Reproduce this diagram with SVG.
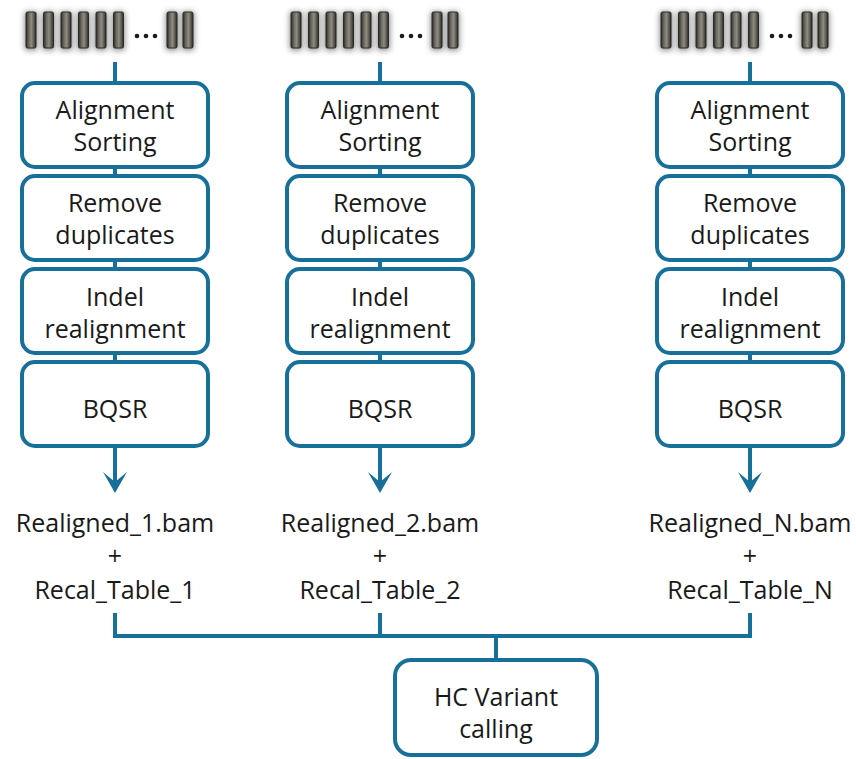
<svg xmlns="http://www.w3.org/2000/svg" xmlns:xlink="http://www.w3.org/1999/xlink" width="856" height="759" viewBox="0 0 856 759">
<style>
.box{fill:#ffffff;stroke:#17709a;stroke-width:4}
.ln{fill:none;stroke:#17709a;stroke-width:4}
.ah{fill:#17709a}
text{font-family:"Open Sans","Liberation Sans",sans-serif;font-size:25px;fill:#1a1a1a;text-anchor:middle}
.dot{fill:#1a1a1a}
</style>
<defs>
<linearGradient id="blk" x1="0" y1="0" x2="1" y2="0">
<stop offset="0" stop-color="#2a2a26"/>
<stop offset="0.3" stop-color="#6e6c62"/>
<stop offset="0.55" stop-color="#8e8b7e"/>
<stop offset="0.8" stop-color="#5a5850"/>
<stop offset="1" stop-color="#2a2a26"/>
</linearGradient>
<filter id="blur" x="-1" y="-1" width="3" height="3"><feGaussianBlur stdDeviation="3"/></filter>
<g id="block">
<rect x="-1" y="12" width="12" height="38" fill="#000" opacity="0.5" filter="url(#blur)"/>
<rect x="0" y="12" width="10" height="36" rx="1.5" fill="url(#blk)" stroke="#2b2b28" stroke-width="1"/>
</g>
<g id="reads">
<use xlink:href="#block" x="-89"/>
<use xlink:href="#block" x="-71.5"/>
<use xlink:href="#block" x="-54"/>
<use xlink:href="#block" x="-36.5"/>
<use xlink:href="#block" x="-19"/>
<use xlink:href="#block" x="-1.5"/>
<circle class="dot" cx="22" cy="36" r="2.3"/>
<circle class="dot" cx="31" cy="36" r="2.3"/>
<circle class="dot" cx="40" cy="36" r="2.3"/>
<use xlink:href="#block" x="52"/>
<use xlink:href="#block" x="68"/>
</g>
<path id="arrowhead" d="M0,0 L-12,-21 L0,-11 L12,-21 Z"/>
</defs>

<g id="reads1"><use xlink:href="#reads" x="115"/></g>
<g id="reads2"><use xlink:href="#reads" x="380"/></g>
<g id="readsN"><use xlink:href="#reads" x="750"/></g>

<g id="connectors">
<path class="ln" d="M115,62 V83 M115,167 V176 M115,260 V269 M115,353 V362 M115,446 V484"/>
<path class="ln" d="M380,62 V83 M380,167 V176 M380,260 V269 M380,353 V362 M380,446 V484"/>
<path class="ln" d="M750,62 V83 M750,167 V176 M750,260 V269 M750,353 V362 M750,446 V484"/>
<use class="ah" xlink:href="#arrowhead" x="115" y="493"/>
<use class="ah" xlink:href="#arrowhead" x="380" y="493"/>
<use class="ah" xlink:href="#arrowhead" x="750" y="493"/>
<path class="ln" d="M115,613 V636 H750 V613 M380,613 V636 M496,636 V660"/>
</g>

<g id="align1"><rect class="box" x="22" y="83" width="186" height="84" rx="13"/><text x="115" y="119">Alignment</text><text x="115" y="151">Sorting</text></g>
<g id="dup1"><rect class="box" x="22" y="176" width="186" height="84" rx="13"/><text x="115" y="212">Remove</text><text x="115" y="244">duplicates</text></g>
<g id="indel1"><rect class="box" x="22" y="269" width="186" height="84" rx="13"/><text x="115" y="306">Indel</text><text x="115" y="338">realignment</text></g>
<g id="bqsr1"><rect class="box" x="22" y="362" width="186" height="84" rx="13"/><text x="115" y="418">BQSR</text></g>

<g id="align2"><rect class="box" x="287" y="83" width="186" height="84" rx="13"/><text x="380" y="119">Alignment</text><text x="380" y="151">Sorting</text></g>
<g id="dup2"><rect class="box" x="287" y="176" width="186" height="84" rx="13"/><text x="380" y="212">Remove</text><text x="380" y="244">duplicates</text></g>
<g id="indel2"><rect class="box" x="287" y="269" width="186" height="84" rx="13"/><text x="380" y="306">Indel</text><text x="380" y="338">realignment</text></g>
<g id="bqsr2"><rect class="box" x="287" y="362" width="186" height="84" rx="13"/><text x="380" y="418">BQSR</text></g>

<g id="alignN"><rect class="box" x="657" y="83" width="186" height="84" rx="13"/><text x="750" y="119">Alignment</text><text x="750" y="151">Sorting</text></g>
<g id="dupN"><rect class="box" x="657" y="176" width="186" height="84" rx="13"/><text x="750" y="212">Remove</text><text x="750" y="244">duplicates</text></g>
<g id="indelN"><rect class="box" x="657" y="269" width="186" height="84" rx="13"/><text x="750" y="306">Indel</text><text x="750" y="338">realignment</text></g>
<g id="bqsrN"><rect class="box" x="657" y="362" width="186" height="84" rx="13"/><text x="750" y="418">BQSR</text></g>

<g id="out1"><text x="115" y="532">Realigned_1.bam</text><text x="115" y="565">+</text><text x="115" y="599">Recal_Table_1</text></g>
<g id="out2"><text x="380" y="532">Realigned_2.bam</text><text x="380" y="565">+</text><text x="380" y="599">Recal_Table_2</text></g>
<g id="outN"><text x="750" y="532">Realigned_N.bam</text><text x="750" y="565">+</text><text x="750" y="599">Recal_Table_N</text></g>

<g id="hc"><rect class="box" x="395" y="660" width="202" height="95" rx="16"/><text x="496" y="706">HC Variant</text><text x="496" y="738">calling</text></g>
</svg>
